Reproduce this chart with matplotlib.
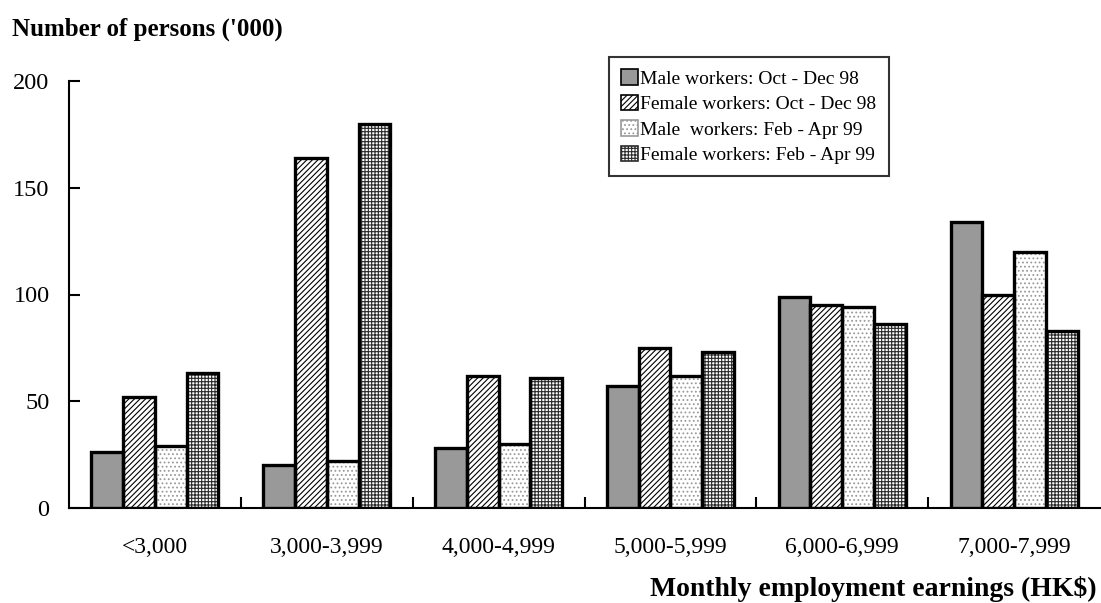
import matplotlib
matplotlib.use("Agg")
import matplotlib.pyplot as plt
import numpy as np
from matplotlib.patches import Patch

categories = ["<3,000", "3,000-3,999", "4,000-4,999", "5,000-5,999", "6,000-6,999", "7,000-7,999"]
male_oct98 = [26, 20, 28, 57, 99, 134]
female_oct98 = [52, 164, 62, 75, 95, 100]
male_feb99 = [29, 22, 30, 62, 94, 120]
female_feb99 = [63, 180, 61, 73, 86, 83]
series_labels = ["Male workers: Oct - Dec 98", "Female workers: Oct - Dec 98",
                 "Male  workers: Feb - Apr 99", "Female workers: Feb - Apr 99"]
yticks = [0, 50, 100, 150, 200]

plt.rcParams['font.family'] = ['Liberation Serif', 'DejaVu Serif']
plt.rcParams['hatch.linewidth'] = 0.8

fig = plt.figure(figsize=(11.01, 6.03), dpi=100)
ax = fig.add_axes([69/1101, 1 - 508/603, 1031/1101, (508-81)/603])

n = len(categories)
x = np.arange(n) + 0.5
w = 0.185
offsets = [-1.5*w, -0.5*w, 0.5*w, 1.5*w]
data = [male_oct98, female_oct98, male_feb99, female_feb99]

styles = [
    dict(fc="#999999", hatch=None, hc=None),
    dict(fc="white", hatch="//////", hc="black"),
    dict(fc="white", hatch="....", hc="#9a9a9a"),
    dict(fc="white", hatch="+++++", hc="#2a2a2a"),
]

handles = []
for vals, off, st, lab in zip(data, offsets, styles, series_labels):
    if st["hatch"]:
        ax.bar(x + off, vals, w, facecolor=st["fc"], edgecolor=st["hc"],
               hatch=st["hatch"], linewidth=0, zorder=2)
        ax.bar(x + off, vals, w, facecolor="none", edgecolor="black",
               linewidth=2.4, zorder=3)
        h = Patch(facecolor=st["fc"], edgecolor=st["hc"], hatch=st["hatch"], linewidth=1.2)
    else:
        ax.bar(x + off, vals, w, facecolor=st["fc"], edgecolor="black",
               linewidth=2.4, zorder=3)
        h = Patch(facecolor=st["fc"], edgecolor="black", linewidth=1.2)
    handles.append(h)

ax.set_xlim(0, n)
ax.set_ylim(0, 200)
ax.spines['top'].set_visible(False)
ax.spines['right'].set_visible(False)
ax.spines['left'].set_linewidth(1.5)
ax.spines['bottom'].set_linewidth(1.5)

ax.set_yticks(yticks)
ax.set_yticklabels([str(v) for v in yticks], fontsize=17.5)
ax.tick_params(axis='y', direction='in', length=8, width=1.5, pad=14)

ax.set_xticks(np.arange(1, n))
ax.set_xticklabels([])
ax.tick_params(axis='x', which='major', direction='in', length=8, width=1.5)
ax.set_xticks(x, minor=True)
ax.set_xticklabels(categories, minor=True, fontsize=17)
ax.tick_params(axis='x', which='minor', length=0, pad=21)

fig.text(12/1101, 1 - 29/603, "Number of persons ('000)", fontsize=18,
         fontweight='bold', ha='left', va='center')
fig.text(1097/1101, 1 - 589/603, "Monthly employment earnings (HK$)", fontsize=20,
         fontweight='bold', ha='right', va='center')

leg = fig.legend(handles, series_labels, loc='upper left',
                 bbox_to_anchor=(609/1101, 1 - 57/603), fontsize=14,
                 frameon=True, fancybox=False, edgecolor='black',
                 handlelength=0.85, handleheight=0.85, handletextpad=0.15,
                 labelspacing=0.36, borderpad=0.62, borderaxespad=0)
leg.get_frame().set_linewidth(1.5)

fig.savefig("out.png", dpi=100)
